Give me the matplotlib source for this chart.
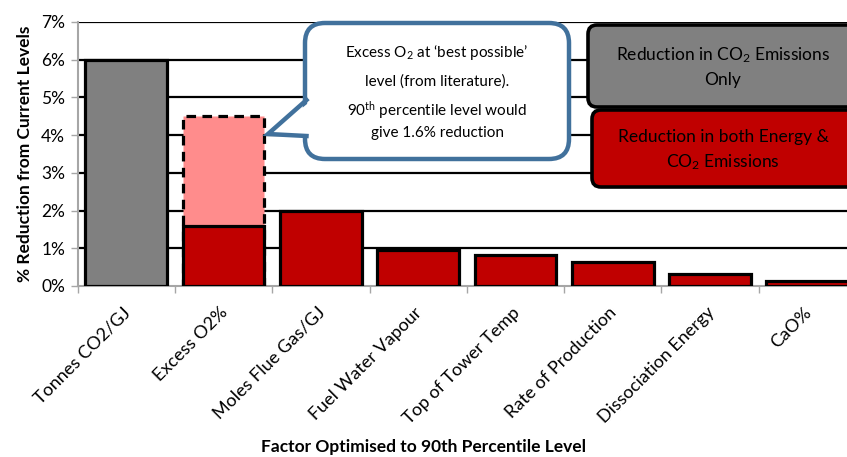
import matplotlib
matplotlib.use("Agg")
import matplotlib.pyplot as plt
from matplotlib.patches import FancyBboxPatch, Polygon
from matplotlib.lines import Line2D
from matplotlib.transforms import ScaledTranslation

plt.rcParams['font.family'] = ['Lato', 'DejaVu Sans']
plt.rcParams['mathtext.fontset'] = 'custom'
plt.rcParams['mathtext.rm'] = 'Lato'
plt.rcParams['mathtext.it'] = 'Lato:italic'
plt.rcParams['mathtext.bf'] = 'Lato:bold'

categories = ["Tonnes CO2/GJ", "Excess O2%", "Moles Flue Gas/GJ", "Fuel Water Vapour",
              "Top of Tower Temp", "Rate of Production", "Dissociation Energy", "CaO%"]
values = [6.0, 1.6, 2.0, 0.95, 0.83, 0.64, 0.32, 0.13]
bar_colors = ["#808080", "#C00000", "#C00000", "#C00000", "#C00000", "#C00000", "#C00000", "#C00000"]
best_possible_o2 = 4.5
yticks = [0, 1, 2, 3, 4, 5, 6, 7]
ytick_labels = ["0%", "1%", "2%", "3%", "4%", "5%", "6%", "7%"]

W, H = 847, 457
fig = plt.figure(figsize=(W / 100, H / 100), dpi=100)

def fx(x):
    return x / W

def fy(y):
    return 1 - y / H

ax_left, ax_right, ax_top, ax_bot = 77.6, 856, 22, 286
ax = fig.add_axes([fx(ax_left), fy(ax_bot), fx(ax_right - ax_left), (ax_bot - ax_top) / H])

x = list(range(len(categories)))
bw = 0.84
lw = 2.3
# dashed "best possible" Excess O2 bar
ax.bar([1], [best_possible_o2], width=bw, color="#FF8C8C", edgecolor="black",
       linewidth=lw, linestyle=(0, (3, 2)), zorder=3)
ax.bar(x, values, width=bw, color=bar_colors, edgecolor="black", linewidth=lw, zorder=4)

ax.set_xlim(-0.5, len(categories) - 0.5)
ax.set_ylim(0, 7)
ax.set_yticks(yticks)
ax.set_yticklabels(ytick_labels, fontsize=12.5)
for yv in yticks[1:]:
    ax.axhline(yv, color="black", linewidth=1.6, zorder=1)

ax.set_xticks([i - 0.5 for i in range(len(categories) + 1)], minor=False)
ax.set_xticklabels([""] * (len(categories) + 1))
ax.set_xticks(x, minor=True)
ax.set_xticklabels(categories, minor=True, rotation=45, ha="right",
                   rotation_mode="anchor", fontsize=13)
ax.tick_params(axis="x", which="minor", length=0, pad=14)
ax.tick_params(axis="x", which="major", length=5, color="#A6A6A6", width=1)
ax.tick_params(axis="y", length=5, color="#A6A6A6", width=1, pad=4)
shift = ScaledTranslation(-4 / 100, 1 / 100, fig.dpi_scale_trans)
for lab in ax.get_xticklabels(minor=True):
    lab.set_transform(lab.get_transform() + shift)

for s in ["top", "right"]:
    ax.spines[s].set_visible(False)
for s in ["left", "bottom"]:
    ax.spines[s].set_color("#A6A6A6")
    ax.spines[s].set_linewidth(1.5)

ax.set_ylabel("% Reduction from Current Levels", fontsize=12.5, fontweight="bold", labelpad=6)
fig.text(fx(423), fy(447), "Factor Optimised to 90th Percentile Level",
         ha="center", va="center", fontsize=12.5, fontweight="bold")

# Callout
cb_l, cb_r, cb_t, cb_b = 305, 569, 23, 159
r = 20
callout = FancyBboxPatch((fx(cb_l), fy(cb_b)), fx(cb_r - cb_l), (cb_b - cb_t) / H,
                         boxstyle=f"round,pad=0,rounding_size={r / W}",
                         transform=fig.transFigure, facecolor="white",
                         edgecolor="#41719C", linewidth=3.2, zorder=5,
                         mutation_aspect=W / H)
fig.add_artist(callout)
tip = (268, 134)
cover = Polygon([(fx(312), fy(100)), (fx(tip[0] + 2), fy(tip[1])), (fx(312), fy(136))],
                closed=True, transform=fig.transFigure, facecolor="white",
                edgecolor="none", zorder=6)
fig.add_artist(cover)
fig.add_artist(Line2D([fx(306.5), fx(tip[0]), fx(306.5)], [fy(100), fy(tip[1]), fy(136)],
                      transform=fig.transFigure, color="#41719C", linewidth=3.2,
                      solid_joinstyle="miter", zorder=7))
cx = 437
fig.text(fx(cx), fy(53), "Excess O$_\\mathregular{2}$ at ‘best possible’", ha="center", va="center",
         fontsize=11, zorder=8)
fig.text(fx(cx), fy(82), "level (from literature).", ha="center", va="center", fontsize=11, zorder=8)
fig.text(fx(cx), fy(111), "90$^\\mathregular{th}$ percentile level would", ha="center", va="center",
         fontsize=11, zorder=8)
fig.text(fx(cx), fy(133), "give 1.6% reduction", ha="center", va="center", fontsize=11, zorder=8)

# Legend boxes
def legend_box(l, t, b, color, lines, ys):
    p = FancyBboxPatch((fx(l), fy(b)), fx(880 - l), (b - t) / H,
                       boxstyle=f"round,pad=0,rounding_size={9 / W}",
                       transform=fig.transFigure, facecolor=color, edgecolor="black",
                       linewidth=2.6, zorder=5, mutation_aspect=W / H)
    fig.add_artist(p)
    for txt, yy in zip(lines, ys):
        fig.text(fx(723), fy(yy), txt, ha="center", va="center", fontsize=12.5, zorder=8)

legend_box(588, 25, 107, "#808080",
           ["Reduction in CO$_\\mathregular{2}$ Emissions", "Only"], [55, 80])
legend_box(592, 110, 187, "#C00000",
           ["Reduction in both Energy &", "CO$_\\mathregular{2}$ Emissions"], [137, 162])

fig.savefig("out.png", dpi=100)
